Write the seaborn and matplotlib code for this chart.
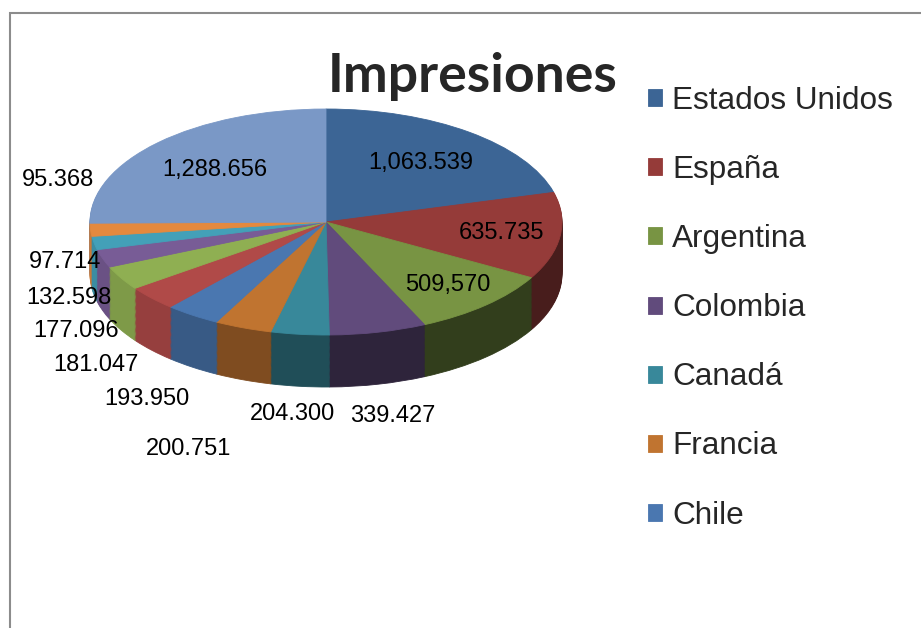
import matplotlib
matplotlib.use("Agg")
import matplotlib.pyplot as plt
import matplotlib.colors as mcolors
from matplotlib.patches import Rectangle
import numpy as np
import seaborn as sns

# datos del grafico
paises = ["Estados Unidos", "España", "Argentina", "Colombia", "Canadá", "Francia", "Chile"]
valores = [1063539, 635735, 509570, 339427, 204300, 200751, 193950,
           181047, 177096, 132598, 97714, 95368, 1288656]
etiquetas = ["1,063.539", "635.735", "509,570", "339.427", "204.300", "200.751", "193.950",
             "181.047", "177.096", "132.598", "97.714", "95.368", "1,288.656"]

# colores de cada porcion (cara superior)
colores = ["#3c6595", "#953b39", "#789443", "#614b7c", "#38889a", "#c07430", "#4a77b0",
           "#b04a48", "#8faf52", "#785c96", "#43a0b8", "#e4893e", "#7a98c6"]

# colocacion de las etiquetas: radio y desplazamiento vertical (en unidades del grosor)
label_r = [0.66, 0.75, 0.76, 1.29, 1.27, 1.65, 1.34, 1.32, 1.22, 1.15, 1.126, 1.14, 0.66]
label_dy = [0, 0, 0, -1, -0.95, -1, -1, -0.82, -0.78, -0.65, -0.31, 0.98, 0]

sns.set_style("white")
plt.rcParams["font.family"] = ["Liberation Sans", "DejaVu Sans"]

W, H = 921, 628
fig = plt.figure(figsize=(W / 100, H / 100), dpi=100)

# marco del area del grafico (recortado a la derecha y abajo)
fig.patches.append(Rectangle((10 / W, -0.2), 1.5, 1.2 - 13 / H,
                             transform=fig.transFigure, fill=False,
                             edgecolor="#8c8c8c", linewidth=1.5))

ax = fig.add_axes([20 / W, 1 - 500 / H, 620 / W, 440 / H])

sx, sy = 236, 113       # semiejes en pixeles
cx, cy = 326, 222       # centro en pixeles
depth = 52 / sy         # grosor del pastel en unidades de datos


def sombra(t1, t2):
    a, b = max(t1, -180), min(t2, 0)
    t = (a + b) / 2 if a < b else (t1 + t2) / 2
    f = 0.85 - 0.43 * np.cos(np.radians(t + 47))
    return min(f, 0.88)


# lateral: varias capas de pastel oscurecido
n_capas = 45
wedges0, _ = ax.pie(valores, startangle=90, counterclock=False, colors=colores)
side_cols = []
for w, c in zip(wedges0, colores):
    f = sombra(w.theta1, w.theta2)
    side_cols.append(np.array(mcolors.to_rgb(c)) * f)
    w.remove()

for d in np.linspace(depth, 0.01, n_capas):
    ws, _ = ax.pie(valores, startangle=90, counterclock=False, colors=side_cols,
                   center=(0, -d), wedgeprops=dict(linewidth=0.6))
    for w in ws:
        w.set_edgecolor(w.get_facecolor())

# cara superior
top, _ = ax.pie(valores, startangle=90, counterclock=False, colors=colores,
                wedgeprops=dict(linewidth=0.6))
for w in top:
    w.set_edgecolor(w.get_facecolor())

# etiquetas de datos
for w, txt, r, dy in zip(top, etiquetas, label_r, label_dy):
    ang = np.radians((w.theta1 + w.theta2) / 2)
    x = r * np.cos(ang)
    y = r * np.sin(ang) + dy * depth
    ax.text(x, y, txt, ha="center", va="center", fontsize=17, color="black")

ax.set_aspect("auto")
ax.set_xlim(-(cx - 20) / sx, (640 - cx) / sx)
ax.set_ylim(-(500 - cy) / sy, (cy - 60) / sy)
ax.axis("off")

# titulo
fig.text(472.5 / W, 1 - 92 / H, "Impresiones", ha="center", va="baseline",
         fontsize=38.5, fontweight="bold", family=["Lato", "DejaVu Sans"])

# leyenda (solo caben siete entradas)
ax.legend(top[:7], paises, loc="upper left", bbox_to_anchor=(648 / W, 1 - 86 / H),
          bbox_transform=fig.transFigure, frameon=False, fontsize=22.7,
          handlelength=0.45, handleheight=0.45, handletextpad=0.32,
          labelspacing=1.24, borderaxespad=0, borderpad=0)

fig.savefig("out.png", dpi=100)
